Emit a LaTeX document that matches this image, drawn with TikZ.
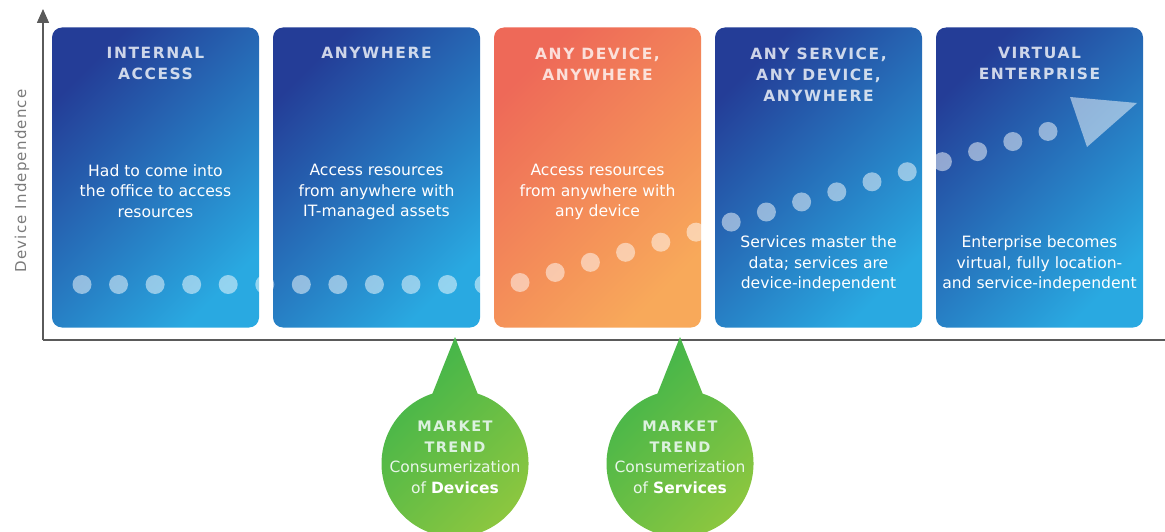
\documentclass[tikz,border=0pt]{standalone}
\usepackage{fontspec}
\setmainfont{DejaVu Sans}
\newfontfamily\capsfont{DejaVu Sans}[LetterSpace=10]
\newfontfamily\axisfont{DejaVu Sans}[LetterSpace=8]
\usetikzlibrary{positioning,arrows.meta}

\definecolor{bluedark}{HTML}{243D97}
\definecolor{bluelight}{HTML}{29A9E1}
\definecolor{orangedark}{HTML}{EE6958}
\definecolor{orangelight}{HTML}{F8A95A}
\definecolor{greendark}{HTML}{3DB44B}
\definecolor{greenlight}{HTML}{8EC73F}
\definecolor{axisgray}{HTML}{5A5A5A}
\definecolor{labelgray}{HTML}{7A7A7A}

\tikzset{
  stage/.style={rounded corners=10pt, minimum width=207pt, minimum height=300pt, inner sep=0pt},
  bluestage/.style={stage, top color=bluedark, bottom color=bluelight, shading angle=45},
  orangestage/.style={stage, top color=orangedark, bottom color=orangelight, shading angle=45},
  heading/.style={inner sep=0pt, align=center, text=white, text opacity=0.78,
    font=\capsfont\bfseries\fontsize{15.5}{21}\selectfont},
  blurb/.style={inner sep=0pt, align=center, text=white, font=\fontsize{15.6}{20.5}\selectfont},
  dot/.style={fill=white, fill opacity=0.5},
  axis/.style={draw=axisgray, line width=1.5pt},
  bubble/.style={top color=greendark, bottom color=greenlight, shading angle=45},
  trendtext/.style={anchor=north, inner sep=0pt, align=center, text=white,
    font=\fontsize{15.5}{20.5}\selectfont},
}
\newcommand{\trendcaps}[1]{{\capsfont\bfseries\fontsize{14.5}{19}\selectfont\textcolor{white!82!greendark}{#1}}}

\begin{document}
\begin{tikzpicture}[x=1pt,y=-1pt]
\useasboundingbox (0,0) rectangle (1165,532);

% axes
\coordinate (origin) at (43,340);
\coordinate (ytop) at (43,9);
\coordinate (xend) at (1165,340);
\draw[axis, -{Triangle[width=12pt,length=14pt]}] (origin) -- (ytop);
\draw[axis] (origin) -- (xend);
\node[rotate=90, text=labelgray, font=\axisfont\fontsize{15}{18}\selectfont] (ylabel) at (22,181) {Device Independence};

% stages
\node[bluestage] (internal) at (155.5,177.5) {};
\node[bluestage] (anywhere) at (376.5,177.5) {};
\node[orangestage] (anydevice) at (597.5,177.5) {};
\node[bluestage] (anyservice) at (818.5,177.5) {};
\node[bluestage] (virtual) at (1039.5,177.5) {};

\node[heading, below=20pt of internal.north] (internal-title) {INTERNAL\\ACCESS};
\node[heading, below=20pt of anywhere.north] (anywhere-title) {ANYWHERE};
\node[heading, below=20pt of anydevice.north] (anydevice-title) {ANY DEVICE,\\ANYWHERE};
\node[heading, below=20pt of anyservice.north] (anyservice-title) {ANY SERVICE,\\ANY DEVICE,\\ANYWHERE};
\node[heading, below=20pt of virtual.north] (virtual-title) {VIRTUAL\\ENTERPRISE};

\node[blurb, below=137pt of internal.north] (internal-text) {Had to come into\\the office to access\\resources};
\node[blurb, below=137pt of anywhere.north] (anywhere-text) {Access resources\\from anywhere with\\IT-managed assets};
\node[blurb, below=137pt of anydevice.north] (anydevice-text) {Access resources\\from anywhere with\\any device};
\node[blurb, below=208.5pt of anyservice.north] (anyservice-text) {Services master the\\data; services are\\device-independent};
\node[blurb, below=208.5pt of virtual.north] (virtual-text) {Enterprise becomes\\virtual, fully location-\\and service-independent};

% dotted trail
\foreach \i in {0,...,11}
  \fill[dot] (82+36.55*\i,284.5) circle (9.5);
\foreach \i in {0,...,15}
  \fill[dot] (520+35.2*\i,282.5-10.07*\i) circle (9.5);
\fill[dot] (1070,97) -- (1137,103) -- (1087,147) -- cycle;

% market trends
\coordinate (tip1) at (455,337);
\coordinate (tip2) at (680,337);
\shade[bubble] (tip1) -- (477.6,393.6) arc[start angle=-72.1, end angle=252.1, radius=73.5] -- cycle;
\shade[bubble] (tip2) -- (702.6,393.6) arc[start angle=-72.1, end angle=252.1, radius=73.5] -- cycle;
\node[trendtext] (trend1) at (455,421) {\trendcaps{MARKET}\\\trendcaps{TREND}\\
  \textcolor{white!88!greendark}{Consumerization}\\\textcolor{white!88!greendark}{of} \textbf{Devices}};
\node[trendtext] (trend2) at (680,421) {\trendcaps{MARKET}\\\trendcaps{TREND}\\
  \textcolor{white!88!greendark}{Consumerization}\\\textcolor{white!88!greendark}{of} \textbf{Services}};
\end{tikzpicture}
\end{document}
